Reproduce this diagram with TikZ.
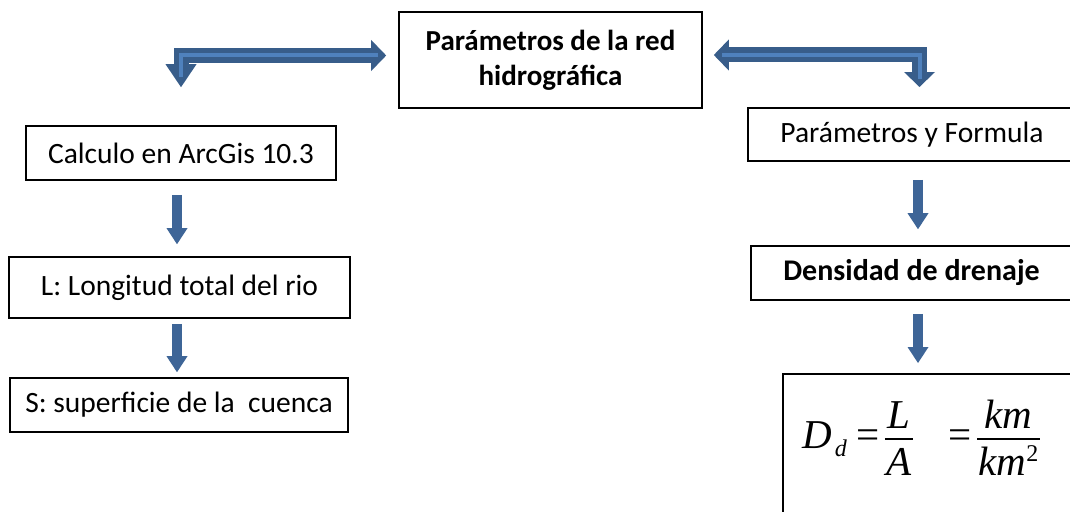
\documentclass[tikz,border=0pt]{standalone}
\usepackage{fix-cm}
\usepackage{fontspec}
\setmainfont{Carlito}
\newfontfamily\tnr{Liberation Serif}
\usetikzlibrary{arrows.meta,calc}
\definecolor{adark}{HTML}{385D8A}
\definecolor{alight}{HTML}{4F81BD}
\definecolor{asolid}{HTML}{3E6597}
\newcommand\myfrac[2]{{\setlength{\arrayrulewidth}{1.3pt}\renewcommand{\arraystretch}{1}%
  \raisebox{20pt}{\begin{tabular}[t]{@{\hspace{1.5pt}}c@{\hspace{1.5pt}}}#1\\\hline\rule{0pt}{36pt}#2\end{tabular}}}}
\begin{document}
\begin{tikzpicture}[x=1pt,y=-1pt,
  box/.style={draw=black,line width=1.6pt,inner sep=0pt,align=center,font=\fontsize{29.5}{36}\selectfont},
  boldbox/.style={box,font=\fontsize{29}{35}\selectfont\bfseries},
  downarrow/.style={draw=asolid,line width=10pt,line cap=butt,-{Triangle[width=21pt,length=16pt,line width=0pt]}},
  bentarrow/.style={draw=adark,line width=15pt,line cap=butt,line join=miter},
  bentstripe/.style={draw=alight,line width=4pt,line cap=butt,line join=miter}]
\useasboundingbox (0,0) rectangle (1070,511);
\clip (0,0) rectangle (1070,511);

% boxes
\node[boldbox,minimum width=303pt,minimum height=96pt] (top) at (550.5,60) {Parámetros de la red\\hidrográfica};
\node[box,minimum width=310pt,minimum height=54pt] (calc) at (181,153) {Calculo en ArcGis 10.3};
\node[box,minimum width=341pt,minimum height=61pt] (L) at (179.5,287.5) {L: Longitud total del rio};
\node[box,minimum width=338pt,minimum height=54pt] (S) at (179,405) {S: superficie de la\ \ cuenca};
\node[box,minimum width=328pt,minimum height=53pt] (pyf) at (912,134.5) {Parámetros y Formula};
\node[boldbox,font=\fontsize{30}{36}\selectfont\bfseries,minimum width=321pt,minimum height=54pt] (dd) at (911.5,273) {Densidad de drenaje};
\node[box,minimum width=310pt,minimum height=160pt,anchor=north west] (form) at (782,373) {};
\node[inner sep=0pt,anchor=base west,font=\tnr\fontsize{41}{34}\selectfont] (fml) at (802,448)
  {{\itshape D}\hspace{3pt}\raisebox{-8pt}{\fontsize{24}{24}\selectfont\itshape d}\hspace{10pt}=\hspace{5pt}%
   \myfrac{\itshape L}{\itshape A}\hspace{36pt}=\hspace{5pt}%
   \myfrac{\itshape km}{\itshape km\raisebox{14pt}{\fontsize{24}{24}\selectfont\upshape 2}}};

% coordinates for arrow columns and bent-arrow ends
\coordinate (lx) at (177,0);
\coordinate (rx) at (918,0);
\coordinate (ltip) at ([xshift=-12pt,yshift=4.5pt]top.west);
\coordinate (ldown) at ([yshift=38pt]calc.north);
\coordinate (rtip) at ([xshift=11pt,yshift=5pt]top.east);
\coordinate (rdown) at (919.5,87);

% bent double-headed arrows
\draw[bentarrow,{Triangle[width=31pt,length=15pt,line width=0pt]}-{Triangle[width=31pt,length=23pt,line width=0pt]}] (ltip) -| (ldown);
\draw[bentstripe,shorten <=8pt,shorten >=10pt] (ltip) -| (ldown);
\draw[bentarrow,{Triangle[width=31pt,length=15pt,line width=0pt]}-{Triangle[width=31pt,length=15pt,line width=0pt]}] (rtip) -| (rdown);
\draw[bentstripe,shorten <=8pt,shorten >=8pt] (rtip) -| (rdown);

% straight down arrows
\draw[downarrow] ($(calc.south -| lx)+(0,14)$) -- ($(L.north -| lx)+(0,-12)$);
\draw[downarrow] ($(L.south -| lx)+(0,5)$) -- ($(S.north -| lx)+(0,-5)$);
\draw[downarrow] ($(pyf.south -| rx)+(0,18)$) -- ($(dd.north -| rx)+(0,-16)$);
\draw[downarrow] ($(dd.south -| rx)+(0,13)$) -- ($(form.north -| rx)+(0,-10)$);
\end{tikzpicture}
\end{document}
